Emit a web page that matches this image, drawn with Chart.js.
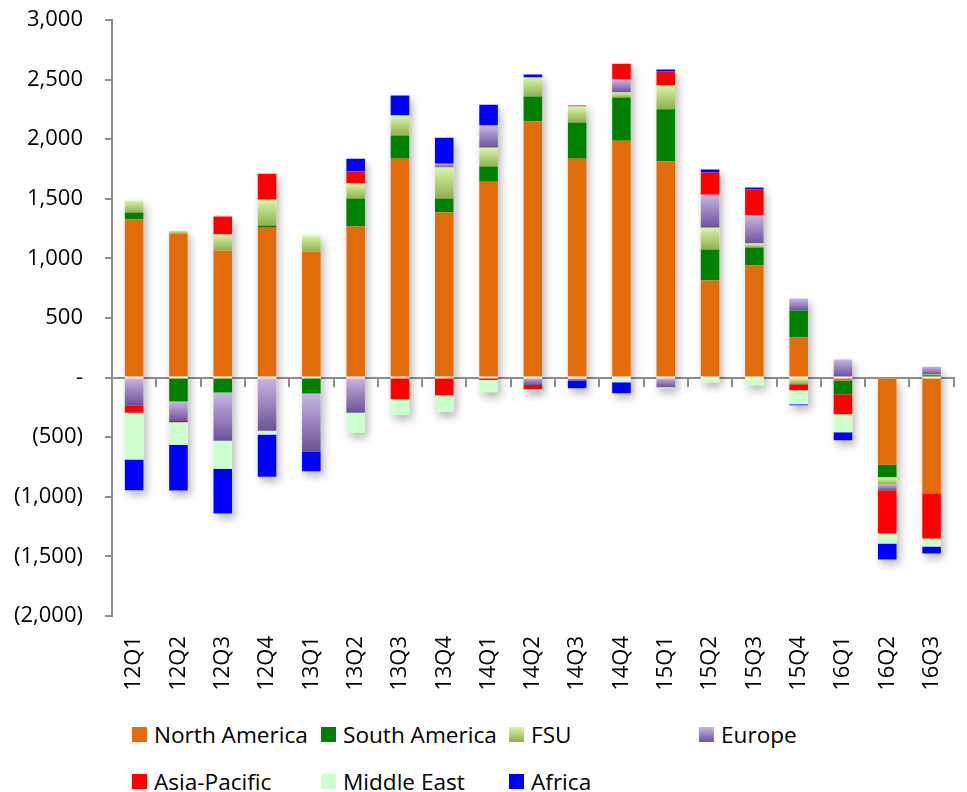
<!DOCTYPE html>
<html>
<head>
<meta charset="utf-8">
<title>Regional change by quarter</title>
<script src="https://cdn.jsdelivr.net/npm/chart.js@4.4.1/dist/chart.umd.min.js"></script>
<style>
    html, body { margin: 0; padding: 0; background: #fff; overflow: hidden; }
    #wrap { position: relative; width: 978px; height: 792px; }
    #chartBox { position: absolute; left: 0; top: 0; width: 978px; height: 700px; }
    #legend {
        position: absolute; left: 132px; top: 719px;
        display: grid; grid-template-columns: 189px 188px 190px 190px; row-gap: 17px;
        font-family: 'Open Sans', sans-serif; font-size: 22.6px; color: #000;
    }
    .item { display: flex; align-items: center; height: 30px; white-space: nowrap; }
    .sw { width: 15px; height: 15px; margin-right: 7px; flex: none; }
</style>
</head>
<body>
<div id="wrap">
    <div id="chartBox"><canvas id="regionChart"></canvas></div>
    <div id="legend"></div>
</div>
<script>
// Quarters on the x axis
const quarters = ['12Q1', '12Q2', '12Q3', '12Q4', '13Q1', '13Q2', '13Q3', '13Q4', '14Q1', '14Q2',
    '14Q3', '14Q4', '15Q1', '15Q2', '15Q3', '15Q4', '16Q1', '16Q2', '16Q3'];

// Series values
const northAmerica = [1326, 1208, 1066, 1258, 1057, 1267, 1837, 1385, 1644, 2148, 1837, 1988, 1815, 814, 940, 336, -25, -728, -971];
const southAmerica = [59, -201, -126, 17, -134, 235, 193, 117, 126, 210, 303, 362, 437, 260, 151, 226, -115, -109, 20];
const fsu = [100, 25, 134, 218, 134, 126, 168, 260, 159, 159, 134, 42, 198, 184, 33, -56, 10, -59, 5];
const europe = [-232, -163, -403, -445, -481, -294, 0, 33, 185, -62, -25, 108, -81, 277, 235, 101, 141, -50, 67];
const asiaPacific = [-62, -10, 151, 218, -5, 100, -182, -148, -20, -36, 8, 134, 117, 185, 218, -50, -168, -362, -379];
const middleEast = [-394, -190, -235, -33, 8, -168, -132, -141, -102, -11, 0, -39, -8, -40, -65, -118, -151, -84, -67];
const africa = [-257, -383, -377, -353, -165, 109, 168, 218, 176, 25, -65, -92, 17, 25, 17, -8, -67, -134, -59];

// Y axis ticks
const yMin = -2000;
const yMax = 3000;
const yStep = 500;

const allSeries = [northAmerica, southAmerica, fsu, europe, asiaPacific, middleEast, africa];
const axisGray = '#8c8c8c';
const fontFamily = "'Open Sans', sans-serif";

// start/end of one stacked segment, same sign values stack together
function segment(d, i) {
    const v = allSeries[d][i];
    let start = 0;
    for (let k = 0; k < d; k++) {
        const o = allSeries[k][i];
        if ((o >= 0) === (v >= 0)) start += o;
    }
    return [start, start + v];
}

// light at the top of each segment, dark at the bottom
function gradientFill(light, dark) {
    return function(context) {
        const chart = context.chart;
        if (context.type !== 'data' || !chart.chartArea) return dark;
        const [a, b] = segment(context.datasetIndex, context.dataIndex);
        const yScale = chart.scales.y;
        const y1 = yScale.getPixelForValue(Math.max(a, b));
        const y2 = yScale.getPixelForValue(Math.min(a, b));
        if (y2 - y1 < 1) return dark;
        const g = chart.ctx.createLinearGradient(0, y1, 0, y2);
        g.addColorStop(0, light);
        g.addColorStop(1, dark);
        return g;
    };
}

const seriesInfo = [
    { label: 'North America', data: northAmerica, color: '#e36c0a' },
    { label: 'South America', data: southAmerica, color: '#008000' },
    { label: 'FSU', data: fsu, color: '#8db04c', light: '#d9f7aa' },
    { label: 'Europe', data: europe, color: '#6d5299', light: '#c8b7e2' },
    { label: 'Asia-Pacific', data: asiaPacific, color: '#ff0000' },
    { label: 'Middle East', data: middleEast, color: '#ccffcc' },
    { label: 'Africa', data: africa, color: '#0000ff' }
];

function formatTick(value) {
    if (value === 0) return '-';
    const s = Math.abs(value).toLocaleString('en-US');
    return value < 0 ? '(' + s + ')' : s;
}

// soft drop shadow behind each whole stacked bar
const barShadow = {
    id: 'barShadow',
    beforeDatasetsDraw(chart) {
        const ctx = chart.ctx;
        const metas = chart.getSortedVisibleDatasetMetas();
        ctx.save();
        ctx.shadowColor = 'rgba(0, 0, 0, 0.28)';
        ctx.shadowBlur = 8;
        ctx.shadowOffsetX = 3;
        ctx.shadowOffsetY = 5;
        ctx.fillStyle = '#fff';
        chart.data.labels.forEach((_, i) => {
            let top = Infinity, bottom = -Infinity, x = 0, w = 0;
            metas.forEach(m => {
                const el = m.data[i];
                if (!el) return;
                top = Math.min(top, el.y, el.base);
                bottom = Math.max(bottom, el.y, el.base);
                x = el.x;
                w = el.width;
            });
            if (bottom > top) ctx.fillRect(x - w / 2, top, w, bottom - top);
        });
        ctx.restore();
    }
};

window.addEventListener('load', function() {
    const ctx = document.getElementById('regionChart').getContext('2d');
    new Chart(ctx, {
        type: 'bar',
        data: {
            labels: quarters,
            datasets: seriesInfo.map(s => ({
                label: s.label,
                data: s.data,
                backgroundColor: s.light ? gradientFill(s.light, s.color) : s.color,
                borderWidth: 0,
                barPercentage: 0.42,
                categoryPercentage: 1
            }))
        },
        options: {
            responsive: true,
            maintainAspectRatio: false,
            animation: false,
            layout: { padding: { top: 20, right: 1, left: 0, bottom: 0 } },
            plugins: {
                legend: { display: false },
                tooltip: { enabled: false }
            },
            scales: {
                x: {
                    stacked: true,
                    grid: { display: false, drawTicks: false },
                    border: { display: false },
                    ticks: {
                        autoSkip: false,
                        minRotation: 90,
                        maxRotation: 90,
                        padding: 20,
                        color: '#000',
                        font: { family: fontFamily, size: 22 }
                    },
                    afterFit(scale) { scale.height = 84; }
                },
                // axis line through zero with tick marks between the quarters
                x2: {
                    type: 'category',
                    labels: quarters,
                    position: { y: 0 },
                    offset: true,
                    z: 1,
                    grid: { drawOnChartArea: false, offset: true, tickLength: 8, color: axisGray, lineWidth: 2 },
                    border: { color: axisGray, width: 2 },
                    ticks: { display: false }
                },
                y: {
                    stacked: true,
                    min: yMin,
                    max: yMax,
                    ticks: {
                        stepSize: yStep,
                        padding: 22,
                        color: '#000',
                        font: { family: fontFamily, size: 22 },
                        callback: formatTick
                    },
                    grid: { drawOnChartArea: false, tickLength: 7, color: axisGray, lineWidth: 2 },
                    border: { color: axisGray, width: 2 },
                    afterFit(scale) {
                        scale.width = 112;
                        scale.paddingTop = 0;
                        scale.paddingBottom = 0;
                    }
                }
            }
        },
        plugins: [barShadow]
    });

    // legend below the chart, four per row
    const legend = document.getElementById('legend');
    seriesInfo.forEach(s => {
        const item = document.createElement('div');
        item.className = 'item';
        const sw = document.createElement('span');
        sw.className = 'sw';
        sw.style.background = s.light ? 'linear-gradient(' + s.light + ', ' + s.color + ')' : s.color;
        const txt = document.createElement('span');
        txt.textContent = s.label;
        item.appendChild(sw);
        item.appendChild(txt);
        legend.appendChild(item);
    });
});
</script>
</body>
</html>
